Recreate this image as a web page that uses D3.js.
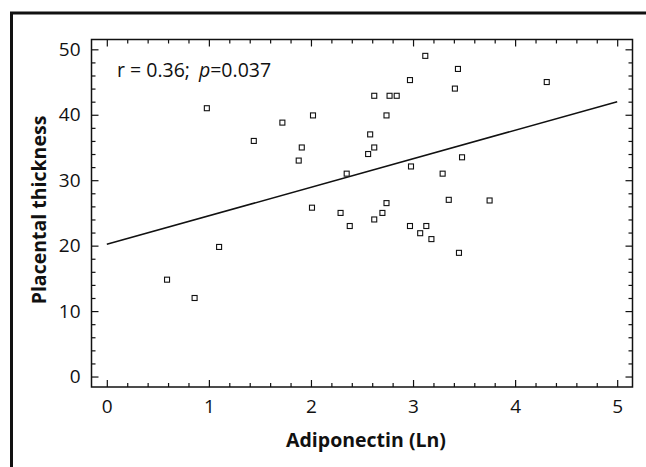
<!DOCTYPE html>
<html>
<head>
<meta charset="utf-8">
<script src="https://cdn.jsdelivr.net/npm/d3@7"></script>
<style>
  body { margin: 0; background: #fff; }
  svg text { font-family: "Open Sans", "Noto Sans", sans-serif; fill: #111; }
</style>
</head>
<body>
<svg id="chart" width="646" height="467"></svg>
<script>
// Adiponectin (Ln) vs placental thickness
var adiponectin = [0.59, 0.86, 0.98, 1.10, 1.44, 1.72, 1.91, 1.88, 2.02, 2.01,
                   2.29, 2.35, 2.38, 2.56, 2.58, 2.62, 2.62, 2.62, 2.70, 2.74,
                   2.74, 2.77, 2.84, 2.97, 2.98, 2.97, 3.07, 3.12, 3.13, 3.18,
                   3.29, 3.35, 3.41, 3.44, 3.48, 3.45, 3.75, 4.31];
var thickness   = [14.8, 12.0, 41.0, 19.8, 36.0, 38.8, 35.0, 33.0, 39.9, 25.8,
                   25.0, 31.0, 23.0, 34.0, 37.0, 42.9, 35.0, 24.0, 25.0, 39.9,
                   26.5, 42.9, 42.9, 45.3, 32.1, 23.0, 21.9, 49.0, 23.0, 21.0,
                   31.0, 27.0, 44.0, 47.0, 33.5, 18.9, 26.9, 45.0];
// fitted regression line
var fitX = [0, 5];
var fitY = [20.2, 42.0];

var xTicks = [0, 1, 2, 3, 4, 5];
var yTicks = [0, 10, 20, 30, 40, 50];
var xLim = [-0.15, 5.15];
var yLim = [-1.6, 51.5];

var statText = "r = 0.36;";
var statP = "p";
var statPval = "=0.037";

var $svg = d3.select("#chart");

// outer frame (runs off the right and bottom edge)
$svg.append("rect")
    .attr("x", 11.5).attr("y", 13)
    .attr("width", 700).attr("height", 500)
    .attr("fill", "none").attr("stroke", "#111").attr("stroke-width", 3);

var box = {left: 91.5, right: 632.5, top: 39.5, bottom: 387};

var x = d3.scaleLinear().domain(xLim).range([box.left, box.right]);
var y = d3.scaleLinear().domain(yLim).range([box.bottom, box.top]);

var xMinor = d3.range(0, 5.01, 0.2).filter(d => Math.abs(d - Math.round(d)) > 0.01);
var yMinor = d3.range(0, 50.1, 2).filter(d => d % 10 != 0);

function addAxis(axisFn, scale, ticks, size, pos, fmt, pad) {
    var a = axisFn(scale).tickValues(ticks).tickSize(-size).tickSizeOuter(0);
    if (fmt) a.tickFormat(fmt).tickPadding(pad); else a.tickFormat("");
    var g = $svg.append("g").attr("transform", pos).call(a);
    g.select(".domain").remove();
    g.selectAll("line").attr("stroke", "#111").attr("stroke-width", 1.2);
    g.selectAll("text").attr("font-size", 19).attr("fill", "#111");
    return g;
}

// bottom / top
addAxis(d3.axisBottom, x, xTicks, 7, `translate(0 ${box.bottom})`, d3.format("d"), 13);
addAxis(d3.axisBottom, x, xMinor, 4, `translate(0 ${box.bottom})`);
addAxis(d3.axisTop, x, xTicks, 7, `translate(0 ${box.top})`);
addAxis(d3.axisTop, x, xMinor, 4, `translate(0 ${box.top})`);
// left / right
addAxis(d3.axisLeft, y, yTicks, 7, `translate(${box.left} 0)`, d3.format("d"), 11);
addAxis(d3.axisLeft, y, yMinor, 4, `translate(${box.left} 0)`);
addAxis(d3.axisRight, y, yTicks, 7, `translate(${box.right} 0)`);
addAxis(d3.axisRight, y, yMinor, 4, `translate(${box.right} 0)`);

// plot box
$svg.append("rect")
    .attr("x", box.left).attr("y", box.top)
    .attr("width", box.right - box.left).attr("height", box.bottom - box.top)
    .attr("fill", "none").attr("stroke", "#111").attr("stroke-width", 1.5);

// regression line
var line = d3.line().x(d => x(d[0])).y(d => y(d[1]));
$svg.append("path")
    .datum(d3.zip(fitX, fitY))
    .attr("d", line)
    .attr("fill", "none").attr("stroke", "#111").attr("stroke-width", 1.5);

// points: small open squares
var sq = 5;
$svg.append("g").selectAll("rect")
    .data(d3.zip(adiponectin, thickness))
    .join("rect")
    .attr("x", d => x(d[0]) - sq/2)
    .attr("y", d => y(d[1]) - sq/2)
    .attr("width", sq).attr("height", sq)
    .attr("fill", "#fff").attr("stroke", "#111").attr("stroke-width", 1.1);

// stats annotation
var $st = $svg.append("text")
    .attr("x", 117).attr("y", 77)
    .attr("font-size", 19.5);
$st.append("tspan").text(statText);
$st.append("tspan").attr("dx", 9).attr("font-style", "italic").text(statP);
$st.append("tspan").text(statPval);

// axis titles
$svg.append("text")
    .attr("x", (x(0) + x(5)) / 2 + 4).attr("y", 447)
    .attr("text-anchor", "middle")
    .attr("font-size", 19.5).attr("font-weight", "bold")
    .text("Adiponectin (Ln)");

$svg.append("text")
    .attr("transform", "translate(46 210) rotate(-90)")
    .attr("text-anchor", "middle")
    .attr("font-size", 19.5).attr("font-weight", "bold")
    .text("Placental thickness");
</script>
</body>
</html>
